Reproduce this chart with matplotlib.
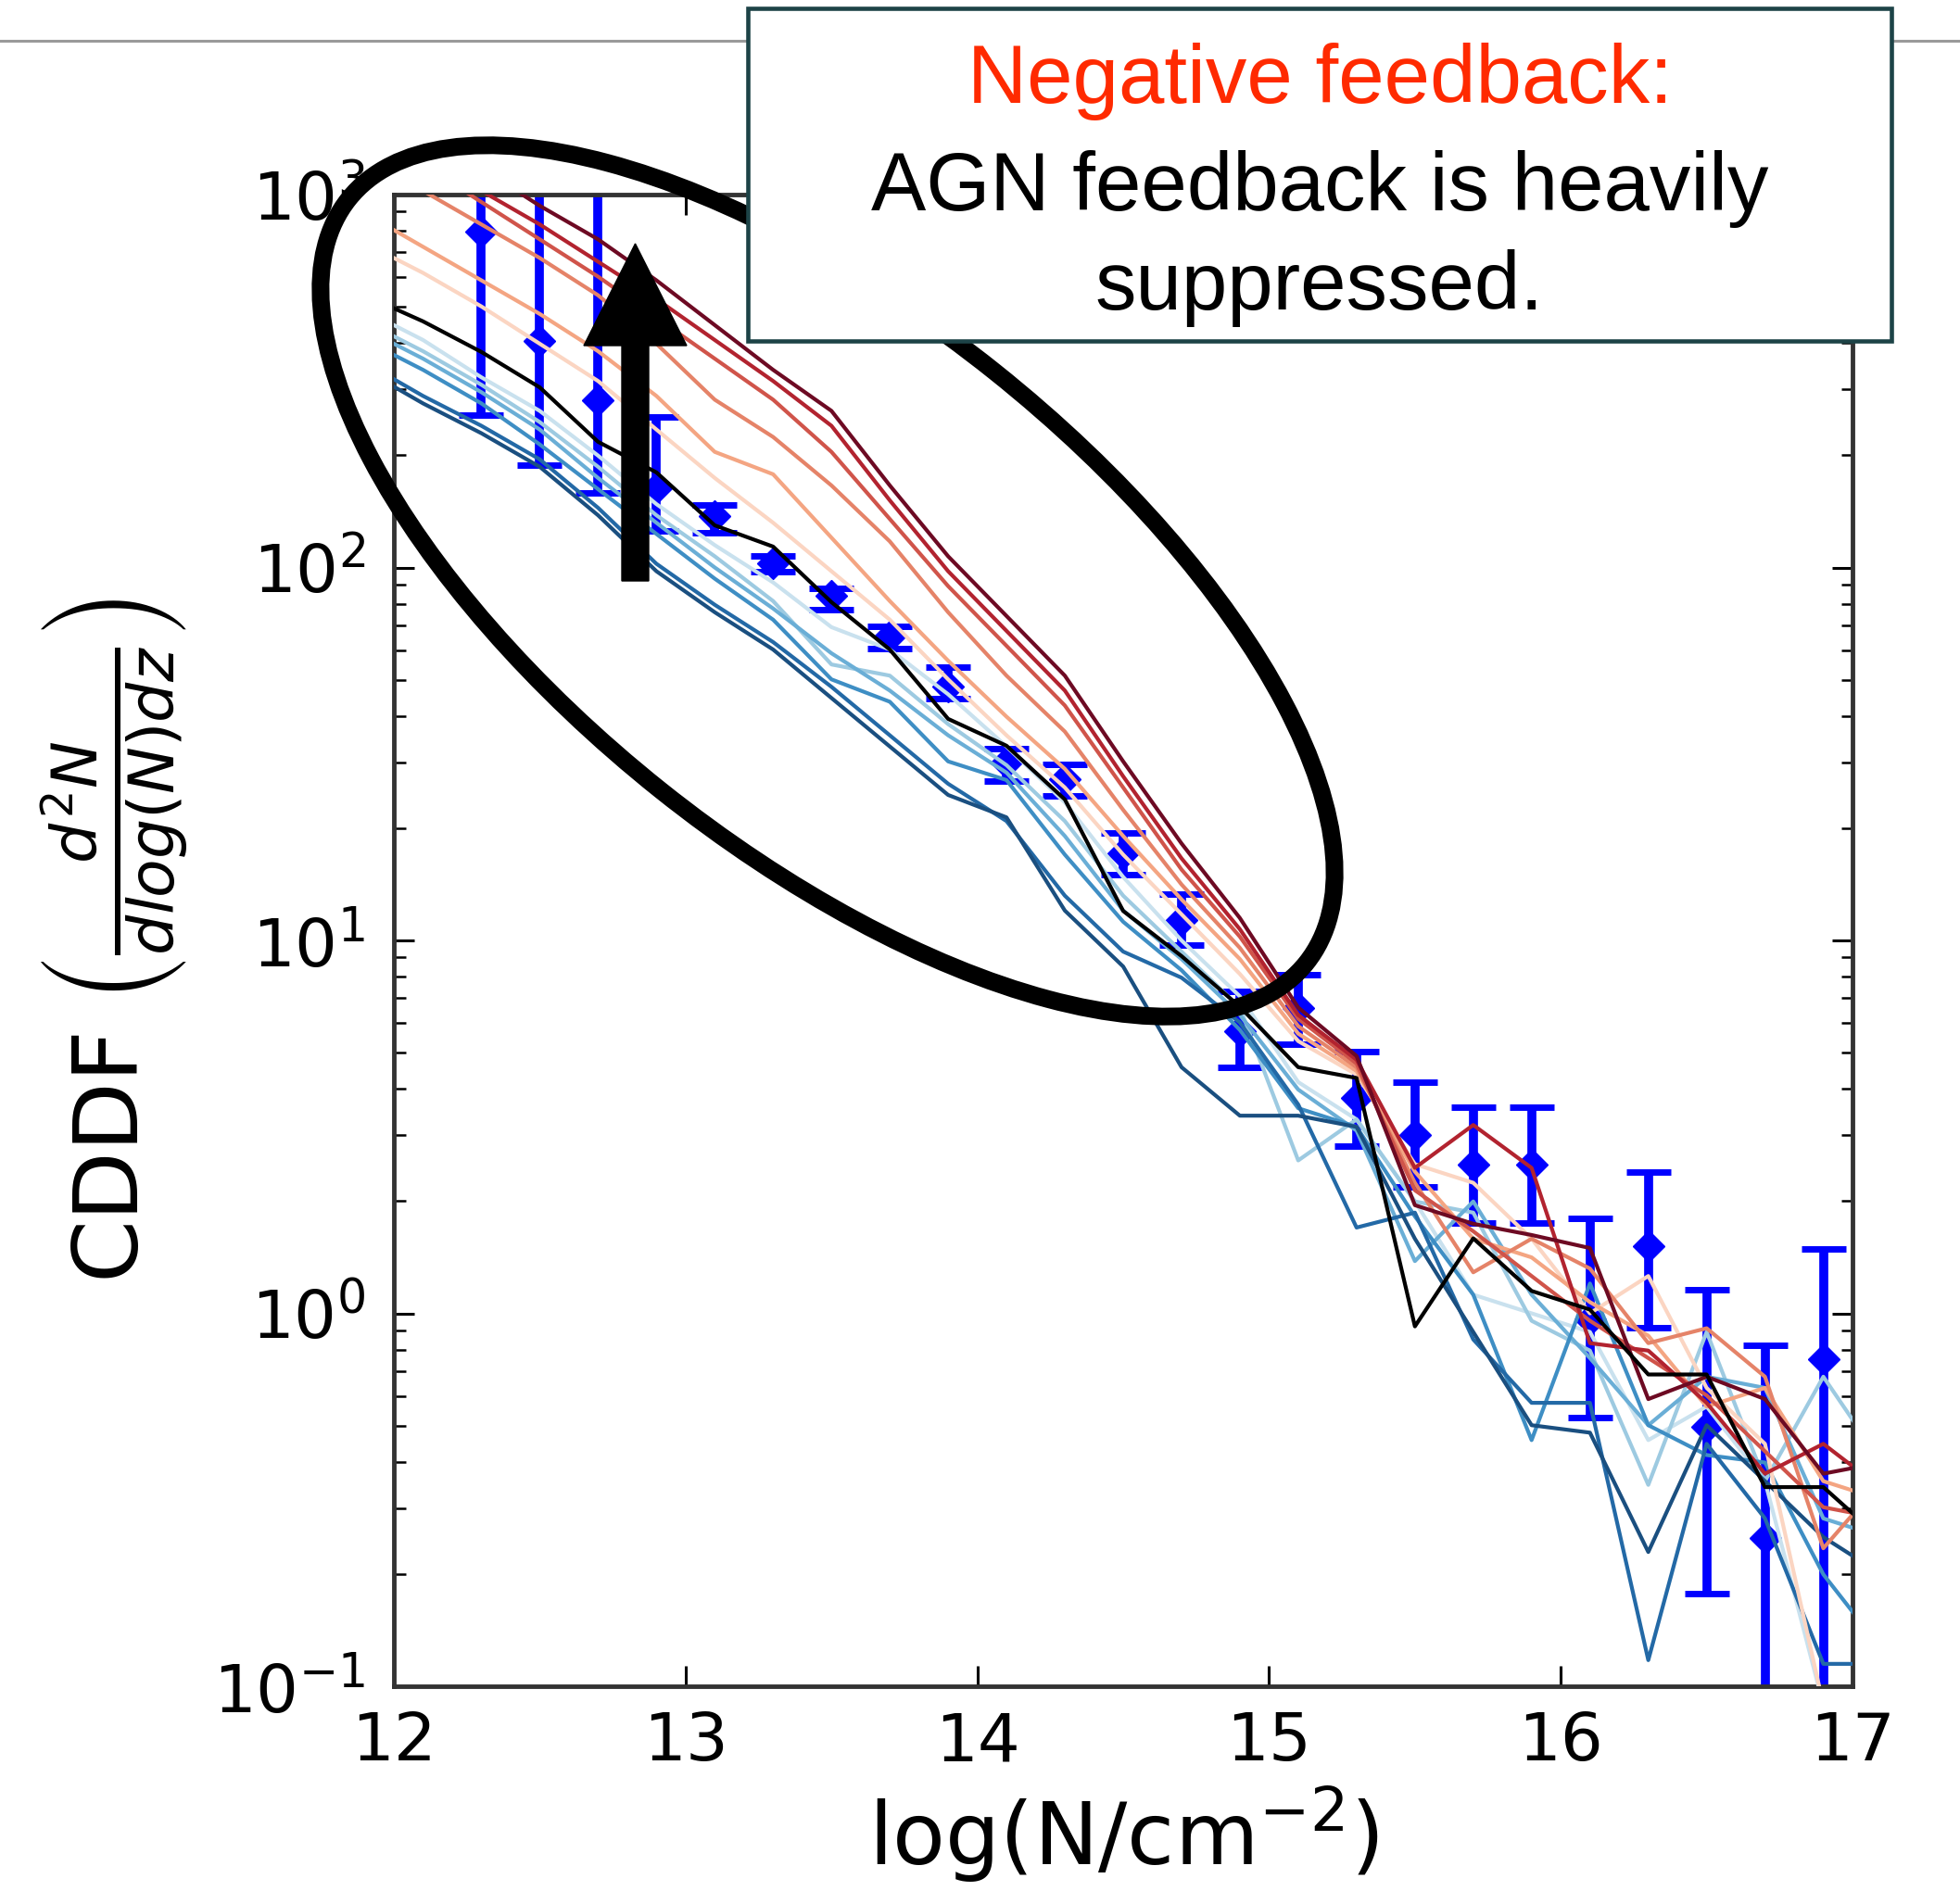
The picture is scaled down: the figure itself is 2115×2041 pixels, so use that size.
import numpy as np
import matplotlib
matplotlib.use("Agg")
import matplotlib.pyplot as plt
from matplotlib.lines import Line2D
from matplotlib.patches import Ellipse, FancyArrow, Rectangle
from matplotlib.ticker import LogLocator, NullFormatter, NullLocator

# bin centres of the simulated CDDFs, log(N/cm^-2)
log_n_model = [11.9, 12.1, 12.3, 12.5, 12.7, 12.9, 13.1, 13.3, 13.5, 13.7, 13.9,
               14.1, 14.3, 14.5, 14.7, 14.9, 15.1, 15.3, 15.5, 15.7, 15.9, 16.1,
               16.3, 16.5, 16.7, 16.9, 17.1]

# model curves, log10 CDDF
fiducial = [2.73, 2.66, 2.578, 2.483, 2.337, 2.255, 2.113, 2.056, 1.907, 1.78, 1.594,
            1.522, 1.378, 1.079, 0.958, 0.822, 0.660, 0.631, -0.035, 0.201, 0.060,
            0.010, -0.164, -0.164, -0.466, -0.466, -0.606]

red_6 = [3.27, 3.17, 3.07, 2.97, 2.88, 2.77, 2.65, 2.53, 2.42, 2.22, 2.03, 1.87, 1.71,
         1.48, 1.26, 1.06, 0.82, 0.69, 0.29, 0.24, 0.21, 0.175, -0.23, -0.17, -0.23,
         -0.43, -0.40]
red_5 = [3.21, 3.11, 3.01, 2.92, 2.82, 2.72, 2.61, 2.50, 2.38, 2.18, 1.99, 1.83, 1.67,
         1.44, 1.22, 1.03, 0.80, 0.68, 0.39, 0.505, 0.39, -0.08, -0.10, -0.24, -0.43,
         -0.35, -0.47]
red_4 = [3.18, 3.08, 2.98, 2.88, 2.78, 2.67, 2.56, 2.45, 2.31, 2.13, 1.95, 1.79, 1.63,
         1.41, 1.19, 1.01, 0.79, 0.67, 0.33, 0.22, 0.10, -0.02, -0.12, -0.22, -0.37,
         -0.52, -0.55]
red_3 = [3.10, 3.01, 2.92, 2.83, 2.73, 2.60, 2.45, 2.35, 2.22, 2.07, 1.88, 1.71, 1.56,
         1.35, 1.15, 0.98, 0.77, 0.66, 0.35, 0.11, 0.20, 0.12, -0.08, -0.04, -0.17,
         -0.63, -0.45]
red_2 = [2.95, 2.86, 2.77, 2.68, 2.58, 2.46, 2.31, 2.25, 2.08, 1.91, 1.75, 1.60, 1.46,
         1.28, 1.11, 0.95, 0.75, 0.65, 0.38, 0.20, 0.15, 0.03, -0.06, -0.25, -0.20,
         -0.45, -0.50]
red_1 = [2.87, 2.79, 2.70, 2.60, 2.50, 2.37, 2.24, 2.12, 1.99, 1.86, 1.70, 1.55, 1.41,
         1.23, 1.07, 0.91, 0.73, 0.64, 0.40, 0.35, 0.20, 0.00, 0.10, -0.20, -0.35,
         -1.05, -1.05]

blue_1 = [2.69, 2.61, 2.51, 2.42, 2.30, 2.17, 2.06, 1.96, 1.84, 1.78, 1.66, 1.52, 1.37,
          1.17, 1.00, 0.85, 0.62, 0.52, 0.30, 0.05, 0.00, -0.05, -0.34, -0.25, -0.45,
          -1.05, -1.05]
blue_2 = [2.66, 2.58, 2.49, 2.39, 2.27, 2.14, 2.03, 1.91, 1.74, 1.71, 1.58, 1.47, 1.32,
          1.12, 0.97, 0.82, 0.41, 0.52, 0.30, 0.27, -0.02, -0.10, -0.46, -0.05, -0.45,
          -0.17, -0.40]
blue_3 = [2.64, 2.56, 2.47, 2.37, 2.24, 2.12, 2.00, 1.89, 1.77, 1.67, 1.55, 1.45, 1.28,
          1.08, 0.95, 0.80, 0.60, 0.49, 0.14, 0.30, 0.05, -0.12, -0.30, -0.17, -0.20,
          -0.55, -0.60]
blue_4 = [2.61, 2.53, 2.44, 2.33, 2.21, 2.09, 1.97, 1.86, 1.70, 1.64, 1.48, 1.43, 1.23,
          1.05, 0.92, 0.76, 0.55, 0.50, 0.26, 0.05, -0.34, 0.08, -0.30, -0.38, -0.40,
          -0.70, -0.90]
blue_5 = [2.55, 2.46, 2.38, 2.29, 2.16, 2.01, 1.90, 1.80, 1.68, 1.55, 1.42, 1.32, 1.12,
          0.97, 0.90, 0.78, 0.56, 0.23, 0.27, -0.07, -0.24, -0.24, -0.93, -0.35, -0.55,
          -0.94, -0.94]
blue_6 = [2.53, 2.44, 2.36, 2.27, 2.14, 1.99, 1.88, 1.78, 1.65, 1.52, 1.39, 1.33, 1.08,
          0.93, 0.66, 0.53, 0.53, 0.50, 0.20, -0.05, -0.30, -0.32, -0.64, -0.30, -0.45,
          -0.60, -0.70]

# observed CDDF with errors, log10
log_n_obs = [12.3, 12.5, 12.7, 12.9, 13.1, 13.3, 13.5, 13.7, 13.9, 14.1, 14.3, 14.5,
             14.7, 14.9, 15.1, 15.3, 15.5, 15.7, 15.9, 16.1, 16.3, 16.5, 16.7, 16.9]
obs = [2.90, 2.607, 2.448, 2.212, 2.138, 2.011, 1.924, 1.815, 1.681, 1.477, 1.432,
       1.233, 1.054, 0.756, 0.818, 0.578, 0.479, 0.40, 0.40, -0.015, 0.18, -0.304,
       -0.603, -0.122]
obs_lo = [2.409, 2.275, 2.20, 2.098, 2.093, 1.99, 1.888, 1.782, 1.648, 1.427, 1.388,
          1.176, 0.988, 0.660, 0.722, 0.449, 0.338, 0.242, 0.242, -0.28, -0.039,
          -0.752, -1.5, -1.5]
obs_hi = [3.3, 3.3, 3.3, 2.404, 2.168, 2.03, 1.945, 1.842, 1.733, 1.514, 1.472, 1.288,
          1.124, 0.863, 0.909, 0.702, 0.619, 0.552, 0.552, 0.255, 0.379, 0.064,
          -0.085, 0.172]

W, H = 2115, 2041
fig = plt.figure(figsize=(W / 100, H / 100), dpi=100)
ax = fig.add_axes([425 / W, 1 - 1820 / H, 1574 / W, 1610 / H])

y = 10 ** np.array(obs)
yerr = [y - 10 ** np.array(obs_lo), 10 ** np.array(obs_hi) - y]
ax.errorbar(log_n_obs, y, yerr=yerr, fmt="D", color="#0000ff", ms=17,
            elinewidth=7, capsize=17, capthick=5, zorder=2)

curves = [
    (blue_1, "#c9e1ee"), (blue_2, "#9dcae1"), (blue_3, "#6aaed6"),
    (blue_4, "#3e8ec4"), (blue_5, "#2369a6"), (blue_6, "#1a4f80"),
    (red_1, "#fbd5c2"), (red_2, "#f4a582"), (red_3, "#e58368"),
    (red_4, "#d0544a"), (red_5, "#b2232f"), (red_6, "#6d0a23"),
    (fiducial, "black"),
]
for vals, col in curves:
    ax.plot(log_n_model, 10 ** np.array(vals), color=col, lw=3, zorder=3)

ax.set_yscale("log")
ax.set_xlim(12, 17)
ax.set_ylim(0.1, 1000)
ax.set_xticks([12, 13, 14, 15, 16, 17])
ax.xaxis.set_minor_locator(NullLocator())
ax.yaxis.set_major_locator(LogLocator(base=10, numticks=10))
ax.yaxis.set_minor_locator(LogLocator(base=10, subs=np.arange(2, 10), numticks=10))
ax.yaxis.set_minor_formatter(NullFormatter())
ax.tick_params(which="both", direction="in", top=True, right=True, colors="black")
ax.tick_params(which="major", length=16, width=2.2, labelsize=52)
ax.tick_params(which="minor", length=9, width=1.8)
ax.tick_params(axis="x", which="major", pad=19)
ax.tick_params(axis="y", which="major", pad=22)
for sp in ax.spines.values():
    sp.set_linewidth(3.5)
    sp.set_color("#333333")

ax.set_xlabel(r"log(N/cm$^{-2}$)", fontsize=67)
ax.set_ylabel(r"CDDF $\left(\frac{d^2N}{dlog(N)dz}\right)$", fontsize=70)
ax.xaxis.set_label_coords(0.5, -0.066)
ax.yaxis.set_label_coords(-0.14, 0.5)

# slide decorations
fig.add_artist(Line2D([0, 1], [1 - 44 / H] * 2, transform=fig.transFigure,
                      color="#9a9a9a", lw=2.2, zorder=0.5))
fig.add_artist(Ellipse((8.93, (H - 627) / 100), 13.22, 5.78, angle=-38.6,
                       transform=fig.dpi_scale_trans, fill=False, ec="black",
                       lw=13.7, zorder=2))
fig.add_artist(FancyArrow(6.855, (H - 627) / 100, 0, 3.64, width=0.29,
                          head_width=1.11, head_length=1.10,
                          length_includes_head=True, transform=fig.dpi_scale_trans,
                          color="black", zorder=2))
fig.add_artist(Rectangle((8.07, (H - 368) / 100), (2041 - 807) / 100, (368 - 9) / 100,
                         transform=fig.dpi_scale_trans, fc="white", ec="#1d4347",
                         lw=3.3, zorder=3))
cx = 1424 / W
fig.text(cx, 1 - 111 / H, "Negative feedback:", color="#ff2a00", fontsize=64,
         family="Liberation Sans", ha="center", va="baseline", zorder=4)
fig.text(cx, 1 - 227 / H, "AGN feedback is heavily", color="black", fontsize=64,
         family="Liberation Sans", ha="center", va="baseline", zorder=4)
fig.text(cx, 1 - 334 / H, "suppressed.", color="black", fontsize=64,
         family="Liberation Sans", ha="center", va="baseline", zorder=4)

fig.savefig("out.png", dpi=100)
